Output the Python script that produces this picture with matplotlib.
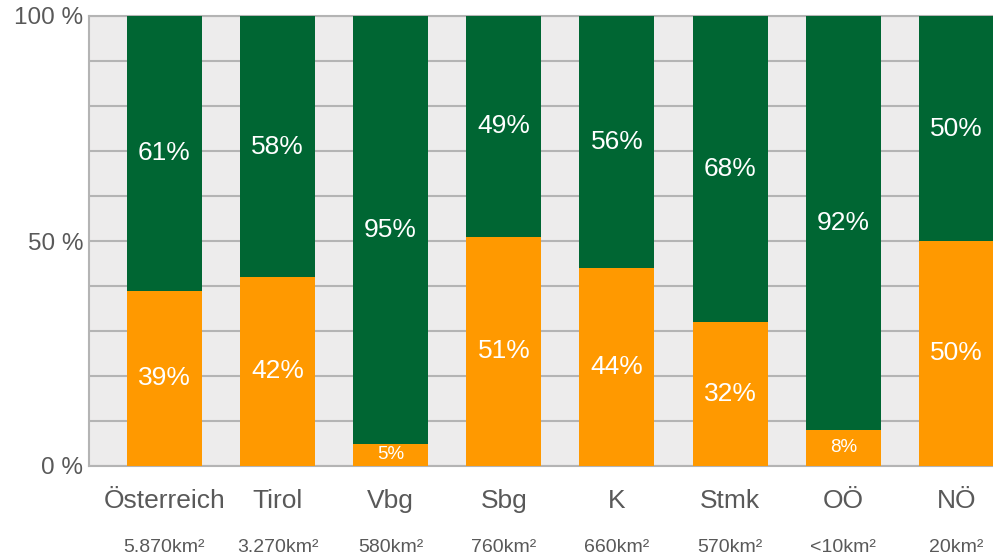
import matplotlib
matplotlib.use("Agg")
import matplotlib.pyplot as plt
import numpy as np

plt.rcParams['font.family'] = ['Liberation Sans', 'DejaVu Sans']

regions = ["Österreich", "Tirol", "Vbg", "Sbg", "K", "Stmk", "OÖ", "NÖ"]
areas = ["5.870km²", "3.270km²", "580km²", "760km²", "660km²", "570km²", "<10km²", "20km²"]
share_orange = [39, 42, 5, 51, 44, 32, 8, 50]
share_green = [61, 58, 95, 49, 56, 68, 92, 50]
y_ticks = [0, 50, 100]
y_tick_labels = ["0 %", "50 %", "100 %"]

ORANGE = "#ff9900"
GREEN = "#006633"
BG = "#edecec"
GRID = "#b4b4b4"
TEXT = "#595959"

fig = plt.figure(figsize=(9.93, 5.57), dpi=100)
ax = fig.add_axes([89 / 993, 91 / 557, 904 / 993, 450 / 557])
ax.set_facecolor(BG)

x = np.arange(len(regions))
width = 0.663
ax.bar(x, share_orange, width, color=ORANGE, zorder=3)
ax.bar(x, share_green, width, bottom=share_orange, color=GREEN, zorder=3)

for xi, o, g in zip(x, share_orange, share_green):
    fs_o = 13.5 if o < 10 else 19
    ax.text(xi, o / 2, f"{o}%", ha="center", va="center", color="white",
            fontsize=fs_o, zorder=4)
    ax.text(xi, o + g / 2, f"{g}%", ha="center", va="center", color="white",
            fontsize=19, zorder=4)

ax.set_xlim(-0.666, 7.323)
ax.set_ylim(0, 100)
ax.set_yticks(y_ticks)
ax.set_yticks(np.arange(0, 101, 10), minor=True)
ax.yaxis.grid(True, which="both", color=GRID, linewidth=1.5)
ax.set_axisbelow(True)
ax.set_yticklabels(y_tick_labels, fontsize=17.5, color=TEXT)
ax.tick_params(axis="y", which="both", length=0, pad=4)

ax.set_xticks(x)
ax.set_xticklabels([])
ax.tick_params(axis="x", length=0)

for xi, name, a in zip(x, regions, areas):
    ax.annotate(name, xy=(xi, 0), xycoords=("data", "axes fraction"),
                xytext=(0, -35), textcoords="offset pixels",
                ha="center", va="center", fontsize=19, color=TEXT)
    ax.annotate(a, xy=(xi, 0), xycoords=("data", "axes fraction"),
                xytext=(0, -81), textcoords="offset pixels",
                ha="center", va="center", fontsize=14, color=TEXT)

for side in ["left", "bottom", "top"]:
    ax.spines[side].set_color(GRID)
    ax.spines[side].set_linewidth(1.5)
ax.spines["right"].set_visible(False)

fig.savefig("out.png", dpi=100, facecolor="white")
